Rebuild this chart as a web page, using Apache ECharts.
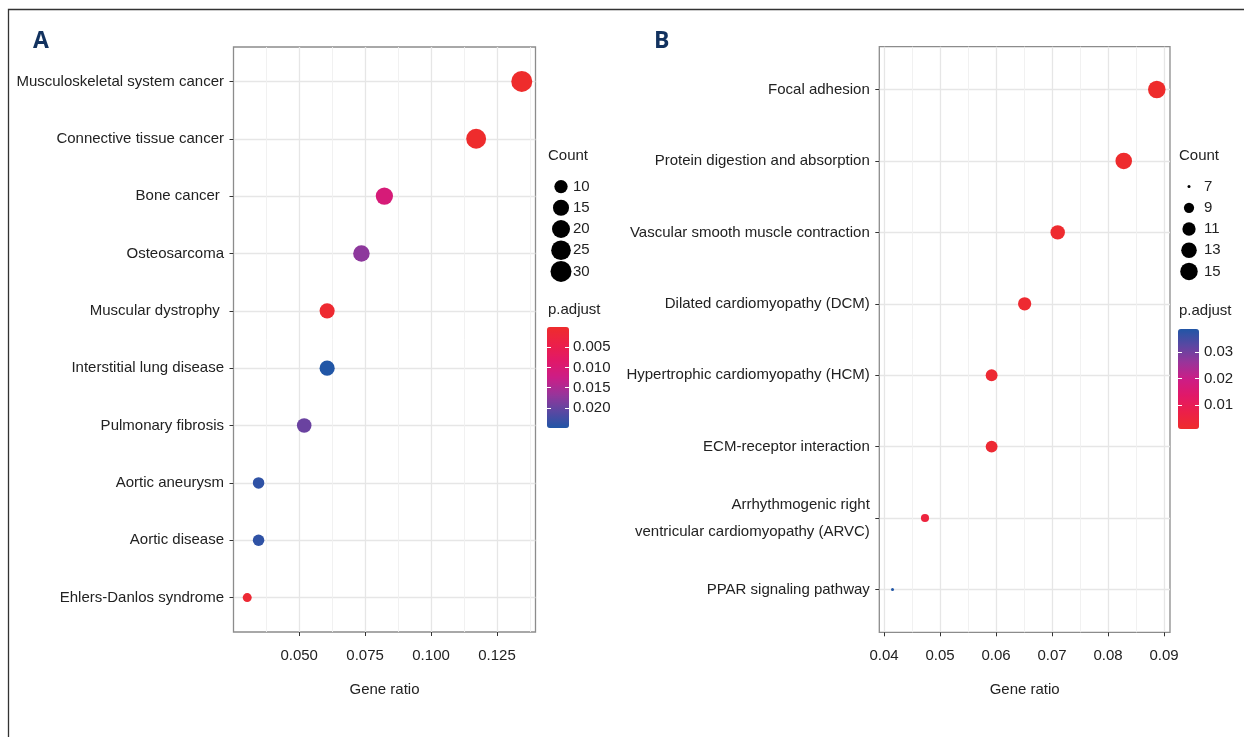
<!DOCTYPE html>
<html>
<head>
<meta charset="utf-8">
<script src="https://cdn.jsdelivr.net/npm/echarts@6.0.0/dist/echarts.min.js"></script>
<style>
  html, body { margin: 0; padding: 0; background: #fff; }
  #chart { width: 1244px; height: 737px; }
</style>
</head>
<body>
<div id="chart"></div>
<script>
// panel A: disease enrichment
const catsA = ['Musculoskeletal system cancer', 'Connective tissue cancer', 'Bone cancer ', 'Osteosarcoma',
  'Muscular dystrophy ', 'Interstitial lung disease', 'Pulmonary fibrosis', 'Aortic aneurysm',
  'Aortic disease', 'Ehlers-Danlos syndrome'];
const ratioA = [0.1344, 0.1171, 0.0823, 0.0736, 0.0606, 0.0606, 0.0519, 0.0346, 0.0346, 0.0303];
const countA = [30, 26, 18, 16, 13, 13, 12, 8, 8, 7];
const padjA = [0.00002, 0.0001, 0.0105, 0.0175, 0.0008, 0.0250, 0.0198, 0.0240, 0.0240, 0.0012];

// panel B: KEGG pathways
const catsB = ['Focal adhesion', 'Protein digestion and absorption', 'Vascular smooth muscle contraction',
  'Dilated cardiomyopathy (DCM)', 'Hypertrophic cardiomyopathy (HCM)', 'ECM-receptor interaction',
  'Arrhythmogenic right\nventricular cardiomyopathy (ARVC)', 'PPAR signaling pathway'];
const ratioB = [0.0887, 0.0828, 0.0710, 0.0651, 0.0592, 0.0592, 0.0473, 0.0415];
const countB = [15, 14, 12, 11, 10, 10, 8, 7];
const padjB = [0.0009, 0.0012, 0.0015, 0.0020, 0.0025, 0.0025, 0.0050, 0.0387];

// ticks / legend keys
const xTicksA = [0.05, 0.075, 0.1, 0.125];
const xMinorA = [0.0375, 0.0625, 0.0875, 0.1125, 0.1375];
const xTicksB = [0.04, 0.05, 0.06, 0.07, 0.08, 0.09];
const xMinorB = [0.045, 0.055, 0.065, 0.075, 0.085];
const legendCountA = [10, 15, 20, 25, 30];
const legendCountB = [7, 9, 11, 13, 15];
const barTicksA = [0.005, 0.010, 0.015, 0.020];
const barTicksB = [0.01, 0.02, 0.03];

const FONT = "'Liberation Sans', Arial, sans-serif";
const FS = 15;
const TXT = '#222';
const grad = ['#ee2c2c', '#ec2048', '#e11868', '#cc1d86', '#99349a', '#5b47a2', '#2156a6'];

// ggplot-like area scale for point size
function sizeScale(counts, lo, hi) {
  const cmin = Math.min(...counts), cmax = Math.max(...counts);
  return c => lo + (hi - lo) * Math.sqrt(Math.max(0, c - cmin) / (cmax - cmin));
}
const sizeA = sizeScale(countA, 9, 21);
const sizeB = sizeScale(countB, 3, 17.5);

// 5% expansion like ggplot
function expand(vals) {
  const lo = Math.min(...vals), hi = Math.max(...vals), d = (hi - lo) * 0.05;
  return [lo - d, hi + d];
}
const xrA = expand(ratioA), xrB = expand(ratioB);

const chart = echarts.init(document.getElementById('chart'));

function mainX(grid, range, ticks, dec) {
  return {
    gridIndex: grid, type: 'value', min: range[0], max: range[1],
    axisLine: { show: false, onZero: false },
    axisTick: { show: true, customValues: ticks, length: 4, lineStyle: { color: '#333', width: 1 } },
    axisLabel: { customValues: ticks, formatter: v => v.toFixed(dec), margin: 16, fontSize: FS, color: TXT, fontFamily: FONT },
    splitLine: { show: true, lineStyle: { color: '#e6e6e6', width: 1.3 } },
    name: 'Gene ratio', nameLocation: 'middle', nameGap: 50,
    nameTextStyle: { fontSize: FS, color: TXT, fontFamily: FONT }
  };
}
function minorX(grid, range, ticks) {
  return {
    gridIndex: grid, type: 'value', min: range[0], max: range[1], position: 'top',
    axisLine: { show: false, onZero: false }, axisLabel: { show: false },
    axisTick: { show: false, customValues: ticks },
    splitLine: { show: true, lineStyle: { color: '#efefef', width: 0.9 } }
  };
}
function mainY(grid, cats) {
  const idx = cats.map((c, i) => i);
  return {
    gridIndex: grid, type: 'value', min: -0.6, max: cats.length - 1 + 0.6, inverse: true,
    axisLine: { show: false, onZero: false },
    axisTick: { show: true, customValues: idx, length: 4, lineStyle: { color: '#333', width: 1 } },
    axisLabel: { customValues: idx, formatter: v => cats[Math.round(v)], margin: 9.5, fontSize: FS,
      lineHeight: 27, color: TXT, fontFamily: FONT },
    splitLine: { show: true, lineStyle: { color: '#e6e6e6', width: 1.3 } }
  };
}
function hiddenX(grid) {
  return { gridIndex: grid, type: 'value', min: -1, max: 1, show: false };
}
function legendY(grid, counts, margin) {
  return {
    gridIndex: grid, type: 'category', data: counts.map(String), inverse: true, position: 'right',
    axisLine: { show: false, onZero: false }, axisTick: { show: false }, splitLine: { show: false },
    axisLabel: { interval: 0, margin: margin, fontSize: FS, color: TXT, fontFamily: FONT }
  };
}
function barY(grid, range, ticks, inverse, side, dec, margin) {
  return {
    gridIndex: grid, type: 'value', min: range[0], max: range[1], inverse: inverse, position: side, z: 10,
    axisLine: { show: false, onZero: false }, splitLine: { show: false },
    axisTick: { show: true, inside: true, length: 4, customValues: ticks, lineStyle: { color: '#fff', width: 1 } },
    axisLabel: { show: side === 'right', customValues: ticks, formatter: v => v.toFixed(dec), margin: margin,
      fontSize: FS, color: TXT, fontFamily: FONT }
  };
}

// colour bar limits (read from the legends)
const pA = [0.0000, 0.0250];
const pB = [0.0009, 0.0387];

const titleStyle = { fontSize: FS, fontWeight: 'normal', color: TXT, fontFamily: FONT };
const panelStyle = { fontSize: 23, fontWeight: 'bold', color: '#12325f', fontFamily: "'Open Sans', 'Liberation Sans', sans-serif" };

const option = {
  animation: false,
  textStyle: { fontFamily: FONT },
  title: [
    { text: 'A', left: 33, top: 30, padding: 0, textStyle: panelStyle },
    { text: 'B', left: 654, top: 30, padding: 0, textStyle: panelStyle },
    { text: 'Count', left: 548, top: 148, padding: 0, textStyle: titleStyle },
    { text: 'p.adjust', left: 548, top: 302, padding: 0, textStyle: titleStyle },
    { text: 'Count', left: 1179, top: 148, padding: 0, textStyle: titleStyle },
    { text: 'p.adjust', left: 1179, top: 303, padding: 0, textStyle: titleStyle }
  ],
  graphic: [
    { type: 'rect', silent: true, z: -1, shape: { x: 8.5, y: 9.5, width: 1300, height: 800 },
      style: { fill: 'none', stroke: '#333', lineWidth: 1.3 } }
  ],
  grid: [
    { left: 233.5, top: 47, width: 302, height: 585, show: true, borderColor: '#8c8c8c', borderWidth: 1.3, outerBoundsMode: 'none' },
    { left: 879.3, top: 46.7, width: 290.7, height: 585.6, show: true, borderColor: '#8c8c8c', borderWidth: 1.3, outerBoundsMode: 'none' },
    { left: 551, top: 176, width: 20, height: 106, outerBoundsMode: 'none' },
    { left: 1179, top: 176, width: 20, height: 106, outerBoundsMode: 'none' },
    { left: 547, top: 327, width: 22, height: 101, outerBoundsMode: 'none' },
    { left: 1178, top: 329, width: 21, height: 100, outerBoundsMode: 'none' }
  ],
  xAxis: [
    mainX(0, xrA, xTicksA, 3),
    minorX(0, xrA, xMinorA),
    mainX(1, xrB, xTicksB, 2),
    minorX(1, xrB, xMinorB),
    hiddenX(2), hiddenX(3), hiddenX(4), hiddenX(5)
  ],
  yAxis: [
    mainY(0, catsA),
    mainY(1, catsB),
    legendY(2, legendCountA, 2),
    legendY(3, legendCountB, 5),
    barY(4, pA, barTicksA, true, 'right', 3, 4),
    barY(4, pA, barTicksA, true, 'left', 3, 4),
    barY(5, pB, barTicksB, false, 'right', 2, 5),
    barY(5, pB, barTicksB, false, 'left', 2, 5)
  ],
  visualMap: [
    { type: 'continuous', seriesIndex: 0, dimension: 3, min: pA[0], max: pA[1], inverse: true,
      calculable: false, hoverLink: false, left: 547, top: 327, itemWidth: 22, itemHeight: 101,
      padding: 0, inRange: { color: grad } },
    { type: 'continuous', seriesIndex: 1, dimension: 3, min: pB[0], max: pB[1], inverse: false,
      calculable: false, hoverLink: false, left: 1178, top: 329, itemWidth: 21, itemHeight: 100,
      padding: 0, inRange: { color: grad } }
  ],
  series: [
    { type: 'scatter', xAxisIndex: 0, yAxisIndex: 0, z: 3,
      data: catsA.map((c, i) => [ratioA[i], i, countA[i], padjA[i]]),
      symbolSize: v => sizeA(v[2]), itemStyle: { opacity: 1 }, emphasis: { disabled: true } },
    { type: 'scatter', xAxisIndex: 2, yAxisIndex: 1, z: 3,
      data: catsB.map((c, i) => [ratioB[i], i, countB[i], padjB[i]]),
      symbolSize: v => sizeB(v[2]), itemStyle: { opacity: 1 }, emphasis: { disabled: true } },
    { type: 'scatter', xAxisIndex: 4, yAxisIndex: 2,
      data: legendCountA.map((c, i) => [0, i, c]),
      symbolSize: v => sizeA(v[2]), itemStyle: { color: '#000', opacity: 1 }, emphasis: { disabled: true } },
    { type: 'scatter', xAxisIndex: 5, yAxisIndex: 3,
      data: legendCountB.map((c, i) => [0, i, c]),
      symbolSize: v => sizeB(v[2]), itemStyle: { color: '#000', opacity: 1 }, emphasis: { disabled: true } }
  ]
};
chart.setOption(option);
</script>
</body>
</html>
